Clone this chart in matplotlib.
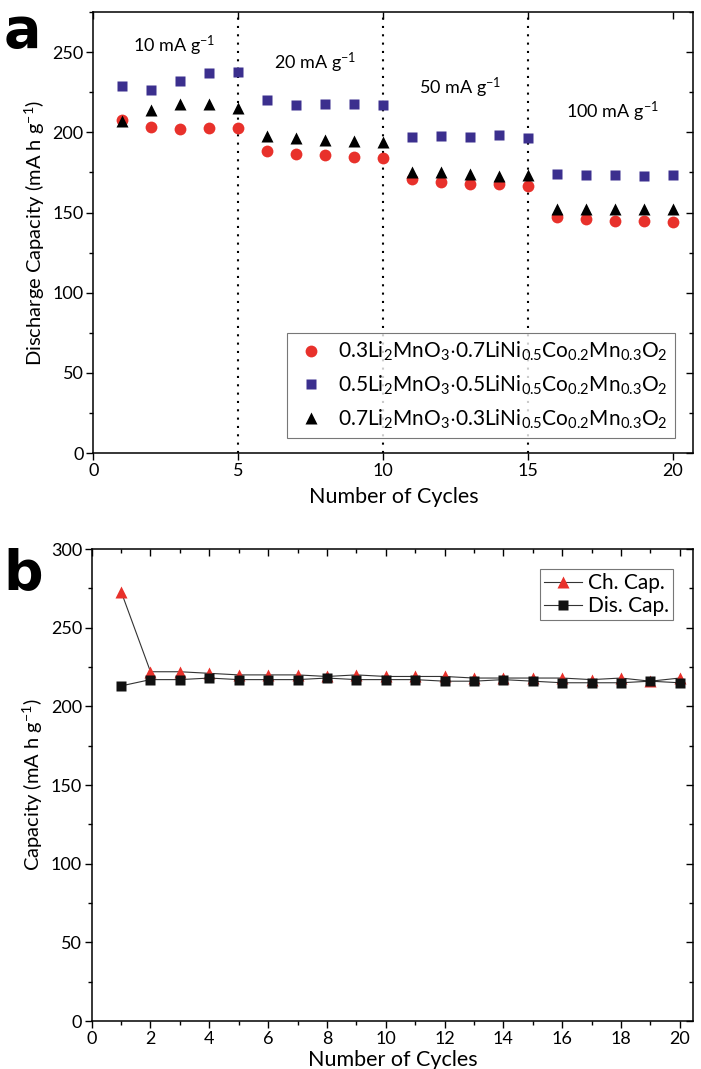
import numpy as np
import matplotlib
matplotlib.use("Agg")
import matplotlib.pyplot as plt
from matplotlib.ticker import MultipleLocator

plt.rcParams['font.family'] = ['Lato', 'DejaVu Sans']
plt.rcParams['mathtext.fontset'] = 'custom'
plt.rcParams['mathtext.rm'] = 'Lato'
plt.rcParams['mathtext.it'] = 'Lato'
plt.rcParams['mathtext.default'] = 'regular'

# panel a - rate capability
cycles_a = np.arange(1, 21)
cap_03 = [207.7, 203.5, 201.9, 202.7, 202.7, 188.6, 186.5, 185.7, 184.5, 184.0,
          171.0, 169.3, 167.9, 167.5, 166.4, 147.3, 145.9, 144.8, 144.4, 143.8]
cap_05 = [229.0, 226.4, 232.0, 236.7, 237.8, 220.0, 217.0, 217.9, 217.9, 217.0,
          197.3, 197.5, 197.1, 198.1, 196.7, 174.1, 173.7, 173.7, 173.0, 173.3]
cap_07 = [207.3, 214.0, 217.7, 217.9, 215.0, 198.0, 196.5, 195.5, 194.8, 193.8,
          175.0, 175.0, 174.0, 173.0, 173.7, 152.3, 152.0, 152.0, 152.0, 152.0]
labels_a = [r'0.3Li$_2$MnO$_3$$\cdot$0.7LiNi$_{0.5}$Co$_{0.2}$Mn$_{0.3}$O$_2$',
            r'0.5Li$_2$MnO$_3$$\cdot$0.5LiNi$_{0.5}$Co$_{0.2}$Mn$_{0.3}$O$_2$',
            r'0.7Li$_2$MnO$_3$$\cdot$0.3LiNi$_{0.5}$Co$_{0.2}$Mn$_{0.3}$O$_2$']
rate_breaks = [5, 10, 15]
rate_labels = ['10 mA g$^{-1}$', '20 mA g$^{-1}$', '50 mA g$^{-1}$', '100 mA g$^{-1}$']
rate_x = [2.8, 7.65, 12.65, 17.9]
rate_y = [254, 243, 228, 213]

# panel b - charge / discharge
cycles_b = np.arange(1, 21)
ch_cap = [273, 222, 222, 221, 220, 220, 220, 219, 220, 219,
          219, 219, 218, 218, 218, 218, 217, 218, 216, 218]
dis_cap = [213, 217, 217, 218, 217, 217, 217, 218, 217, 217,
           217, 216, 216, 217, 216, 215, 215, 215, 216, 215]

red = '#e8312b'
purple = '#3b2f8e'

fig = plt.figure(figsize=(7.01, 10.69), dpi=100)
ax1 = fig.add_axes([0.1331, 0.5762, 0.856, 0.4125])
ax2 = fig.add_axes([0.1308, 0.0449, 0.8578, 0.4415])


def style_axes(ax):
    for sp in ax.spines.values():
        sp.set_linewidth(1.1)
    ax.tick_params(which='both', labelsize=13, width=1.0, pad=2)
    ax.tick_params(which='major', length=5)
    ax.tick_params(which='minor', length=3)
    ax.tick_params(axis='both', which='both', direction='out')
    ax.tick_params(axis='both', which='both', top=True, right=True)
    # top/right ticks point inwards like in Origin
    for t in ax.xaxis.get_ticklines(minor=False)[1::2] + ax.xaxis.get_ticklines(minor=True)[1::2]:
        t.set_marker(3)
    for t in ax.yaxis.get_ticklines(minor=False)[1::2] + ax.yaxis.get_ticklines(minor=True)[1::2]:
        t.set_marker(0)


# ---- panel a
ax1.plot(cycles_a, cap_03, 'o', color=red, ms=8.5, mec='none', label=labels_a[0], zorder=3)
ax1.plot(cycles_a, cap_05, 's', color=purple, ms=6.5, mec='none', label=labels_a[1], zorder=3)
ax1.plot(cycles_a, cap_07, '^', color='black', ms=9, mec='none', label=labels_a[2], zorder=3)
for xb in rate_breaks:
    ax1.axvline(xb, color='black', ls=(0, (1, 3)), lw=1.5, zorder=1)
for tx, ty, tl in zip(rate_x, rate_y, rate_labels):
    ax1.text(tx, ty, tl, ha='center', va='center', fontsize=13)

ax1.set_xlim(0, 20.7)
ax1.set_ylim(0, 275)
ax1.xaxis.set_major_locator(MultipleLocator(5))
ax1.yaxis.set_major_locator(MultipleLocator(50))
ax1.yaxis.set_minor_locator(MultipleLocator(25))
ax1.set_xlabel('Number of Cycles', fontsize=15.5, labelpad=6)
ax1.set_ylabel('Discharge Capacity (mA h g$^{-1}$)', fontsize=14.5, labelpad=4)
style_axes(ax1)
leg1 = ax1.legend(loc='lower right', bbox_to_anchor=(0.97, 0.034), fontsize=15,
                  frameon=True, fancybox=False, edgecolor='#555555', handlelength=1.6,
                  handletextpad=0.5, labelspacing=0.5, borderpad=0.35, borderaxespad=0,
                  numpoints=1)
leg1.get_frame().set_linewidth(0.8)
fig.text(0.005, 0.995, 'a', fontsize=40, fontweight='bold', family='DejaVu Sans',
         ha='left', va='top')

# ---- panel b
ax2.plot(cycles_b, ch_cap, '-^', color='#333333', lw=0.8, mfc=red, mec='none', ms=9,
         label='Ch. Cap.', zorder=3)
ax2.plot(cycles_b, dis_cap, '-s', color='#333333', lw=0.8, mfc='#111111', mec='none', ms=6.5,
         label='Dis. Cap.', zorder=3)
ax2.set_xlim(0, 20.45)
ax2.set_ylim(0, 300)
ax2.xaxis.set_major_locator(MultipleLocator(2))
ax2.xaxis.set_minor_locator(MultipleLocator(1))
ax2.yaxis.set_major_locator(MultipleLocator(50))
ax2.yaxis.set_minor_locator(MultipleLocator(25))
ax2.set_xlabel('Number of Cycles', fontsize=15.5, labelpad=2)
ax2.set_ylabel('Capacity (mA h g$^{-1}$)', fontsize=14.5, labelpad=4)
style_axes(ax2)
leg2 = ax2.legend(loc='upper right', bbox_to_anchor=(0.967, 0.958), fontsize=15, frameon=True,
                  fancybox=False, edgecolor='#555555', handlelength=1.8, handletextpad=0.3,
                  labelspacing=0.15, borderpad=0.2, borderaxespad=0, numpoints=1)
leg2.get_frame().set_linewidth(0.8)
fig.text(0.005, 0.488, 'b', fontsize=40, fontweight='bold', family='DejaVu Sans',
         ha='left', va='top')

fig.savefig('out.png', dpi=100)
